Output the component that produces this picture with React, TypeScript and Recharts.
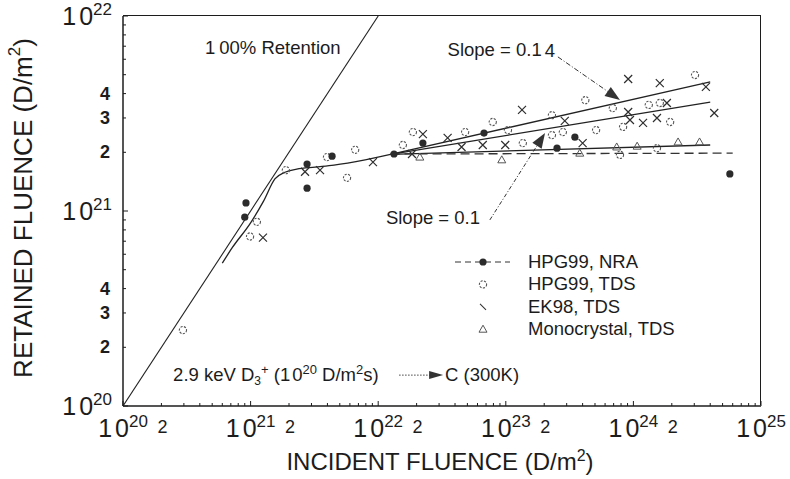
import React from "react";
import { ComposedChart, Scatter, XAxis, YAxis, ReferenceLine, ReferenceDot, Legend } from "recharts";

const FONT = "'Liberation Sans', Arial, Helvetica, sans-serif";
const INK = "#1c1c1c";

// layout
const CHART_W = 790;
const CHART_H = 479;
const MARGIN = { top: 16, right: 29, bottom: 0, left: 0 };
const Y_AXIS_W = 123;
const X_AXIS_H = 73;
const PLOT_W = CHART_W - MARGIN.left - MARGIN.right - Y_AXIS_W;
const PLOT_H = CHART_H - MARGIN.top - MARGIN.bottom - X_AXIS_H;

// ---- axis ticks (decades + minor positions) ----
const xDecades = [1e20, 1e21, 1e22, 1e23, 1e24];
const yDecades = [1e20, 1e21];
const minorMult = [1, 2, 3, 4, 5, 6, 7, 8, 9];
const xTicks = [...xDecades.flatMap((d) => minorMult.map((m) => m * d)), 1e25];
const yTicks = [...yDecades.flatMap((d) => minorMult.map((m) => m * d)), 1e22];

// ---- measured points ----
// HPG99, NRA (filled dots)
const nraX = [9.2e20, 9.0e20, 2.77e21, 2.77e21, 4.35e21, 1.33e22, 2.24e22, 6.75e22, 2.52e23, 3.48e23, 5.7e24];
const nraY = [1.1e21, 9.3e20, 1.74e21, 1.31e21, 1.91e21, 1.96e21, 2.23e21, 2.51e21, 2.1e21, 2.39e21, 1.55e21];

// HPG99, TDS (open circles)
const tdsX = [2.95e20, 9.9e20, 1.12e21, 1.89e21, 3.97e21, 6.6e21, 5.7e21, 1.56e22, 1.87e22, 4.8e22, 7.9e22, 1.04e23, 1.36e23,
  2.3e23, 2.3e23, 2.8e23, 4.2e23, 5.1e23, 6.9e23, 8.3e23, 1.32e24, 1.61e24, 1.94e24, 3.04e24, 1.53e24, 7.85e23];
const tdsY = [2.45e20, 7.4e20, 8.8e20, 1.62e21, 1.89e21, 2.06e21, 1.48e21, 2.18e21, 2.54e21, 2.54e21, 2.86e21, 2.6e21, 2.23e21,
  3.1e21, 2.45e21, 2.54e21, 3.7e21, 2.6e21, 3.37e21, 2.7e21, 3.5e21, 3.58e21, 2.86e21, 4.98e21, 2.1e21, 1.94e21];

// EK98, TDS (crosses)
const ekX = [1.25e21, 2.67e21, 3.5e21, 9.1e21, 1.84e22, 2.24e22, 3.5e22, 4.5e22, 6.6e22, 9.9e22, 1.34e23, 2.9e23, 4.0e23,
  9.1e23, 1.61e24, 9.1e23, 9.4e23, 1.19e24, 1.53e24, 1.83e24, 3.7e24, 4.3e24];
const ekY = [7.3e20, 1.59e21, 1.62e21, 1.78e21, 1.96e21, 2.48e21, 2.37e21, 2.13e21, 2.18e21, 2.18e21, 3.3e21, 2.9e21, 2.23e21,
  4.75e21, 4.53e21, 3.22e21, 2.93e21, 2.83e21, 3.0e21, 3.58e21, 4.33e21, 3.18e21];

// Monocrystal, TDS (triangles)
const monoX = [2.12e22, 9.3e22, 3.8e23, 7.4e23, 1.07e24, 2.24e24, 3.3e24];
const monoY = [1.89e21, 1.83e21, 1.98e21, 2.13e21, 2.15e21, 2.26e21, 2.26e21];

// ---- model curves ----
const retentionX = [1e20, 1e22];
const retentionY = [1e20, 1e22];

const fitX = [6.0e20, 7.2e20, 1.0e21, 1.26e21, 1.55e21, 1.86e21, 2.3e21, 3.2e21, 4.5e21, 7.9e21, 1.25e22];
const fitY = [5.4e20, 6.5e20, 8.7e20, 1.12e21, 1.46e21, 1.58e21, 1.64e21, 1.68e21, 1.72e21, 1.83e21, 1.95e21];

const slope14X = [1.25e22, 4.0e24];
const slope14Y = [1.95e21, 4.6e21];
const slope10X = [1.25e22, 4.0e24];
const slope10Y = [1.95e21, 3.62e21];
const flatX = [1.25e22, 4.0e24];
const flatY = [1.95e21, 2.18e21];
const nraFitX = [1.25e22, 6.0e24];
const nraFitY = [1.96e21, 1.98e21];

const zip = (xs: number[], ys: number[]) => xs.map((x, i) => ({ x, y: ys[i] }));

const mantExp = (v: number) => {
  const e = Math.floor(Math.log10(v) + 1e-9);
  return [Math.round(v / Math.pow(10, e)), e];
};

// ---- marker shapes ----
const FilledDot = ({ cx, cy }: any) => <circle cx={cx} cy={cy} r={3.6} fill="#2b2b2b" />;
const OpenRing = ({ cx, cy }: any) => (
  <circle cx={cx} cy={cy} r={3.6} fill="none" stroke="#555" strokeWidth={1.1} strokeDasharray="2.2 1.3" />
);
const Cross = ({ cx, cy }: any) => (
  <path d={`M${cx - 4},${cy - 4}L${cx + 4},${cy + 4}M${cx + 4},${cy - 4}L${cx - 4},${cy + 4}`} stroke="#2e2e2e" strokeWidth={1.2} />
);
const Tri = ({ cx, cy }: any) => (
  <path d={`M${cx},${cy - 4}L${cx + 4},${cy + 3}L${cx - 4},${cy + 3}Z`} fill="none" stroke="#555" strokeWidth={1} />
);
const NoMark = () => <g />;

// ---- ticks ----
const PowerText = ({ x, y, e, anchor }: any) => (
  <text x={x} y={y} textAnchor={anchor} fontFamily={FONT} fontSize={25} fill={INK}>
    1<tspan dx={3}>0</tspan>
    <tspan dy={-10} fontSize={17}>{e}</tspan>
  </text>
);

const XTick = ({ x, y, payload }: any) => {
  const [m, e] = mantExp(payload.value);
  return (
    <g>
      <path d={`M${x},${y}V${y - (m === 1 ? 5 : 3)}`} stroke={INK} strokeWidth={1} />
      {m === 1 && <PowerText x={x} y={y + 31} e={e} anchor="middle" />}
      {m === 2 && (
        <text x={x + 1} y={y + 27} textAnchor="middle" fontFamily={FONT} fontSize={18} fill={INK}>
          2
        </text>
      )}
    </g>
  );
};

const YTick = ({ x, y, payload }: any) => {
  const [m, e] = mantExp(payload.value);
  return (
    <g>
      <path d={`M${x},${y}H${x + (m === 1 ? 5 : 3)}`} stroke={INK} strokeWidth={1} />
      {m === 1 && <PowerText x={x - 11} y={y + 9} e={e} anchor="end" />}
      {m >= 2 && m <= 4 && (
        <text x={x - 13} y={y + 6} textAnchor="end" fontFamily={FONT} fontSize={18} fontWeight="bold" fill={INK}>
          {m}
        </text>
      )}
    </g>
  );
};

// ---- annotations ----
const textShape = (content: React.ReactNode, anchor = "start") => ({ cx, cy }: any) => (
  <text x={cx} y={cy} textAnchor={anchor} dominantBaseline="central" fontFamily={FONT} fontSize={18.5} fill={INK}>
    {content}
  </text>
);

const ArrowLine = (dash: string) => (p: any) => {
  const { x1, y1, x2, y2 } = p;
  const a = Math.atan2(y2 - y1, x2 - x1);
  const L = 15, W = 5.5;
  const bx = x2 - L * Math.cos(a), by = y2 - L * Math.sin(a);
  const nx = -Math.sin(a) * W, ny = Math.cos(a) * W;
  return (
    <g>
      <line x1={x1} y1={y1} x2={bx} y2={by} stroke="#333" strokeWidth={1} strokeDasharray={dash} />
      <path d={`M${x2},${y2}L${bx + nx},${by + ny}L${bx - nx},${by - ny}Z`} fill="#333" />
    </g>
  );
};

const beamShape = ({ cx, cy }: any) => {
  const base = cy + 6;
  return (
    <g fontFamily={FONT} fontSize={18.5} fill={INK}>
      <text x={cx} y={base}>
        2.9 keV D<tspan dy={4} fontSize={12}>3</tspan>
        <tspan dy={-11} fontSize={13}>+</tspan>
        <tspan dy={7}> (1</tspan>
        <tspan dx={2}>0</tspan>
        <tspan dy={-7} fontSize={13}>20</tspan>
        <tspan dy={7}> D/m</tspan>
        <tspan dy={-7} fontSize={13}>2</tspan>
        <tspan dy={7}>s)</tspan>
      </text>
      <line x1={cx + 226} x2={cx + 258} y1={base - 6} y2={base - 6} stroke="#444" strokeWidth={1} strokeDasharray="1.5 1.5" />
      <path d={`M${cx + 270},${base - 6}L${cx + 256},${base - 10}L${cx + 256},${base - 2}Z`} fill="#333" />
      <text x={cx + 272} y={base}>C (300K)</text>
    </g>
  );
};

const legendRows = ["HPG99, NRA", "HPG99, TDS", "EK98, TDS", "Monocrystal, TDS"];
const legendMarks = [FilledDot, OpenRing, (p: any) => <path d={`M${p.cx - 3},${p.cy - 3}L${p.cx + 3},${p.cy + 3}`} stroke="#333" strokeWidth={1.1} />, Tri];

const LegendBox = () => (
  <svg width={320} height={96} style={{ display: "block" }}>
    <line x1={15} x2={70} y1={14} y2={14} stroke="#333" strokeWidth={1.2} strokeDasharray="6 4" />
    {legendRows.map((name, i) => {
      const Mark = legendMarks[i];
      const cy = 14 + 22.4 * i;
      return (
        <g key={name}>
          <Mark cx={43} cy={cy} />
          <text x={88} y={cy + 6} fontFamily={FONT} fontSize={18.5} fill={INK}>
            {name}
          </text>
        </g>
      );
    })}
  </svg>
);

const lineStyle = { stroke: "#222", strokeWidth: 1.3 };

export default function App() {
  return (
    <div style={{ position: "absolute", left: 0, top: 0, width: CHART_W, height: CHART_H, background: "#fff" }}>
      <ComposedChart width={CHART_W} height={CHART_H} margin={MARGIN}>
        <XAxis
          dataKey="x"
          type="number"
          scale="log"
          domain={[1e20, 1e25]}
          allowDataOverflow
          ticks={xTicks}
          interval={0}
          height={X_AXIS_H}
          tickSize={0}
          tickMargin={0}
          tickLine={false}
          tick={<XTick />}
          axisLine={{ stroke: INK, strokeWidth: 1.5 }}
          label={{
            content: ({ viewBox }: any) => (
              <text x={viewBox.x + viewBox.width / 2 - 2} y={viewBox.y + 64} textAnchor="middle" fontFamily={FONT} fontSize={24} fill={INK}>
                INCIDENT FLUENCE (D/m<tspan dy={-9} fontSize={16}>2</tspan>
                <tspan dy={9}>)</tspan>
              </text>
            ),
          }}
        />
        <YAxis
          dataKey="y"
          type="number"
          scale="log"
          domain={[1e20, 1e22]}
          allowDataOverflow
          ticks={yTicks}
          interval={0}
          width={Y_AXIS_W}
          tickSize={0}
          tickMargin={0}
          tickLine={false}
          tick={<YTick />}
          axisLine={{ stroke: INK, strokeWidth: 1.5 }}
          label={{
            content: ({ viewBox }: any) => {
              const cx = 23;
              const cy = viewBox.y + viewBox.height / 2 - 3;
              return (
                <text x={cx} y={cy} transform={`rotate(-90 ${cx} ${cy})`} textAnchor="middle" dominantBaseline="central" fontFamily={FONT} fontSize={26} fill={INK}>
                  RETAINED FLUENCE (D/m<tspan dy={-9} fontSize={17}>2</tspan>
                  <tspan dy={9}>)</tspan>
                </text>
              );
            },
          }}
        />

        {/* model curves */}
        <Scatter data={zip(retentionX, retentionY)} line={{ stroke: "#222", strokeWidth: 1.1 }} shape={<NoMark />} isAnimationActive={false} />
        <Scatter data={zip(fitX, fitY)} line={lineStyle} lineJointType="monotoneX" shape={<NoMark />} isAnimationActive={false} />
        <Scatter data={zip(slope14X, slope14Y)} line={lineStyle} shape={<NoMark />} isAnimationActive={false} />
        <Scatter data={zip(slope10X, slope10Y)} line={lineStyle} shape={<NoMark />} isAnimationActive={false} />
        <Scatter data={zip(flatX, flatY)} line={lineStyle} shape={<NoMark />} isAnimationActive={false} />
        <Scatter data={zip(nraFitX, nraFitY)} line={{ stroke: "#333", strokeWidth: 1.3, strokeDasharray: "9 5" }} shape={<NoMark />} isAnimationActive={false} />

        {/* measurements */}
        <Scatter data={zip(tdsX, tdsY)} shape={<OpenRing />} isAnimationActive={false} />
        <Scatter data={zip(ekX, ekY)} shape={<Cross />} isAnimationActive={false} />
        <Scatter data={zip(monoX, monoY)} shape={<Tri />} isAnimationActive={false} />
        <Scatter data={zip(nraX, nraY)} shape={<FilledDot />} isAnimationActive={false} />

        {/* annotations */}
        <ReferenceLine segment={[{ x: 2.56e23, y: 6.17e21 }, { x: 7.85e23, y: 3.71e21 }]} shape={ArrowLine("5 2 1 2")} />
        <ReferenceLine segment={[{ x: 7.5e22, y: 9.0e20 }, { x: 2.03e23, y: 2.51e21 }]} shape={ArrowLine("4 2 1 2")} />
        <ReferenceDot x={4.39e20} y={6.93e21} r={0} shape={textShape(<>1<tspan dx={4}>00% Retention</tspan></>)} />
        <ReferenceDot x={2.43e23} y={6.7e21} r={0} shape={textShape(<>Slope = 0.1<tspan dx={3}>4</tspan></>, "end")} />
        <ReferenceDot x={6.28e22} y={9.3e20} r={0} shape={textShape("Slope = 0.1", "end")} />
        <ReferenceDot x={2.47e20} y={1.44e20} r={0} shape={beamShape} />

        <Legend
          layout="vertical"
          align="center"
          verticalAlign="middle"
          wrapperStyle={{ left: 440, top: 248, width: 320 }}
          content={() => <LegendBox />}
        />
      </ComposedChart>
      {/* top and right edges of the plot box */}
      <div
        style={{
          position: "absolute",
          left: MARGIN.left + Y_AXIS_W,
          top: MARGIN.top - 1,
          width: PLOT_W,
          height: PLOT_H,
          borderTop: `1.5px solid ${INK}`,
          borderRight: `1.5px solid ${INK}`,
          boxSizing: "border-box",
          pointerEvents: "none",
        }}
      />
    </div>
  );
}
